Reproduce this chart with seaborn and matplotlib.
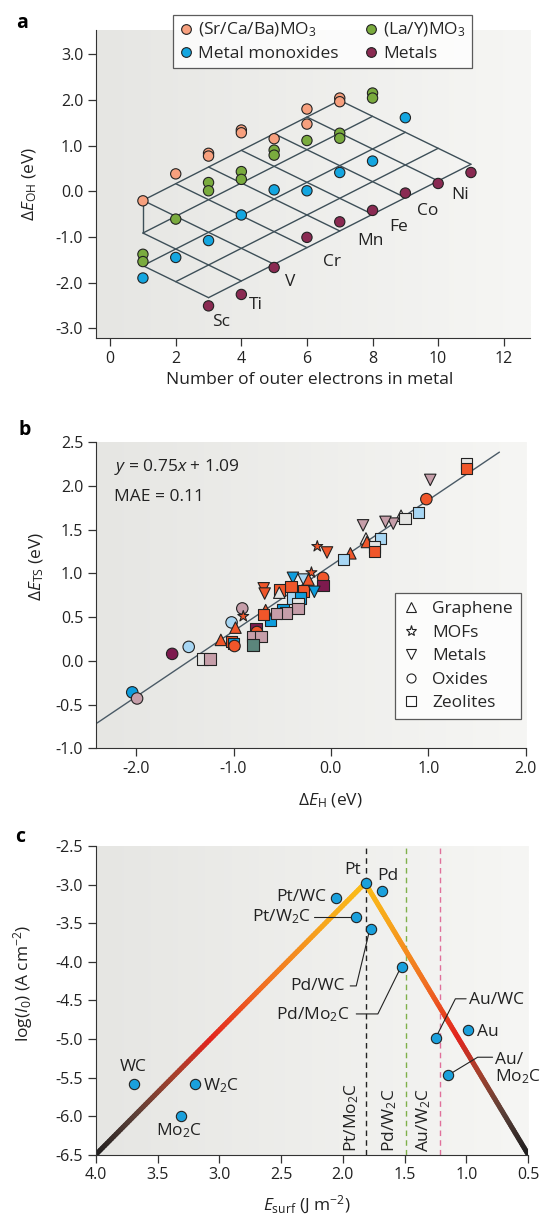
import numpy as np
import pandas as pd
import matplotlib
matplotlib.use('Agg')
import matplotlib.pyplot as plt
from matplotlib.collections import LineCollection
from matplotlib.colors import LinearSegmentedColormap
from matplotlib.lines import Line2D
import seaborn as sns


# ---- panel a data ----
sr_x = [1, 2, 3, 3, 4, 4, 5, 6, 6, 7, 7]
sr_y = [-0.21, 0.38, 0.83, 0.77, 1.34, 1.28, 1.15, 1.80, 1.47, 2.04, 1.96]
lay_x = [1, 1, 2, 3, 3, 4, 4, 5, 5, 6, 7, 7, 8, 8]
lay_y = [-1.38, -1.54, -0.61, 0.19, 0.01, 0.43, 0.26, 0.90, 0.79, 1.11, 1.27, 1.16, 2.15, 2.04]
mono_x = [1, 2, 3, 4, 5, 6, 7, 8, 9]
mono_y = [-1.90, -1.45, -1.08, -0.52, 0.03, 0.01, 0.41, 0.66, 1.61]
metal_x = [3, 4, 5, 6, 7, 8, 9, 10, 11]
metal_y = [-2.51, -2.26, -1.67, -1.01, -0.67, -0.42, -0.04, 0.17, 0.41]
metal_names = ['Sc', 'Ti', 'V', 'Cr', 'Mn', 'Fe', 'Co', 'Ni']
metal_lab_x = [3.37, 4.43, 5.50, 6.77, 7.94, 8.78, 9.68, 10.67]
metal_lab_y = [-2.86, -2.50, -1.99, -1.54, -1.09, -0.79, -0.43, -0.08]

# ---- panel b data ----
fit_slope, fit_icpt = 0.75, 1.09
fit_x = [-2.4, 1.73]
b_x = [1.39, 1.39, 1.02, 0.98, 0.90, 0.72, 0.76, 0.64, 0.56, 0.33,
       0.36, 0.37, 0.51, 0.45, 0.45, 0.20, 0.13, -0.14, -0.04, -0.20,
       -0.08, -0.39, -0.28, -0.23, -0.08, -0.41, -0.28, -0.17, -0.69, -0.68,
       -0.53, -0.53, -0.39, -0.31, -0.34, -0.34, -0.49, -0.46, -0.62, -0.56,
       -0.67, -0.69, -0.91, -0.90, -1.02, -0.98, -0.77, -0.76, -0.80, -0.72,
       -0.80, -1.13, -1.02, -1.00, -0.99, -1.63, -1.46, -1.32, -1.24, -2.04,
       -1.99]
b_y = [2.26, 2.20, 2.07, 1.85, 1.70, 1.66, 1.63, 1.57, 1.59, 1.55,
       1.40, 1.36, 1.40, 1.30, 1.25, 1.23, 1.16, 1.31, 1.24, 1.01,
       0.95, 0.95, 0.93, 0.93, 0.86, 0.85, 0.80, 0.79, 0.83, 0.77,
       0.81, 0.78, 0.72, 0.72, 0.65, 0.60, 0.59, 0.55, 0.47, 0.54,
       0.58, 0.53, 0.60, 0.51, 0.44, 0.38, 0.37, 0.33, 0.28, 0.28,
       0.18, 0.24, 0.22, 0.20, 0.17, 0.08, 0.16, 0.02, 0.02, -0.36,
       -0.43]
b_class = ['Zeolites', 'Zeolites', 'Metals', 'Oxides', 'Zeolites', 'Graphene', 'Zeolites', 'Metals', 'Metals', 'Metals',
           'Graphene', 'Graphene', 'Zeolites', 'Zeolites', 'Zeolites', 'Graphene', 'Zeolites', 'MOFs', 'Metals', 'MOFs',
           'Oxides', 'Metals', 'Metals', 'Graphene', 'Zeolites', 'Zeolites', 'Zeolites', 'Metals', 'Metals', 'Metals',
           'Zeolites', 'Graphene', 'Zeolites', 'Zeolites', 'Zeolites', 'Zeolites', 'Zeolites', 'Zeolites', 'Zeolites', 'Zeolites',
           'Graphene', 'Zeolites', 'Oxides', 'MOFs', 'Oxides', 'Graphene', 'Zeolites', 'Oxides', 'Zeolites', 'Zeolites',
           'Zeolites', 'Graphene', 'Zeolites', 'Zeolites', 'Oxides', 'Oxides', 'Oxides', 'Zeolites', 'Zeolites', 'Oxides',
           'Oxides']
b_tone = ['W', 'R', 'M', 'R', 'LB', 'W', 'W', 'M', 'M', 'M',
          'W', 'R', 'LB', 'W', 'R', 'R', 'LB', 'R', 'R', 'R',
          'R', 'B', 'LB', 'R', 'D', 'R', 'R', 'B', 'R', 'R',
          'R', 'W', 'LB', 'B', 'W', 'M', 'B', 'M', 'B', 'M',
          'R', 'R', 'M', 'R', 'LB', 'R', 'D', 'R', 'M', 'M',
          'T', 'R', 'R', 'B', 'R', 'D', 'LB', 'W', 'M', 'B',
          'M']

# ---- panel c data ----
volcano_x = [4.0, 1.82, 0.5]
volcano_y = [-6.5, -2.98, -6.5]
c_names = ['Pt', 'Pd', 'Pt/WC', 'Pt/W$_2$C', 'Pd/WC', 'Pd/Mo$_2$C', 'Au/WC', 'Au',
           'Au/\nMo$_2$C', 'WC', 'W$_2$C', 'Mo$_2$C']
c_x = [1.817, 1.682, 2.059, 1.892, 1.776, 1.523, 1.245, 0.985, 1.146, 3.69, 3.198, 3.313]
c_y = [-2.98, -3.08, -3.17, -3.416, -3.575, -4.07, -4.99, -4.89, -5.466, -5.58, -5.587, -6.00]
c_lab_x = [1.85, 1.72, 2.135, 2.255, 1.986, 1.946, 0.976, 0.914, 0.767, 3.70, 3.13, 3.33]
c_lab_y = [-2.81, -2.89, -3.16, -3.42, -4.32, -4.69, -4.495, -4.905, -5.39, -5.37, -5.60, -6.19]
c_lab_ha = ['right', 'left', 'right', 'right', 'right', 'right', 'left', 'left', 'left', 'center', 'left', 'center']
ref_names = ['Pt/Mo$_2$C', 'Pd/W$_2$C', 'Au/W$_2$C']
ref_x = [1.817, 1.488, 1.211]
ref_lab_x = [1.93, 1.62, 1.345]
ref_colors = ['#222222', '#7fb04a', '#e0709a']
leader_lines = [([2.23, 1.93], [-3.42, -3.42]),
                ([1.941, 1.892, 1.79], [-4.313, -4.313, -3.63]),
                ([1.892, 1.717, 1.542], [-4.676, -4.676, -4.106]),
                ([1.003, 1.09, 1.238], [-4.48, -4.48, -4.95]),
                ([0.789, 0.91, 1.124], [-5.237, -5.237, -5.445])]


sns.set_style('ticks')
FONT = 'Open Sans'
plt.rcParams['font.family'] = [FONT, 'DejaVu Sans']
plt.rcParams['mathtext.fontset'] = 'custom'
plt.rcParams['mathtext.rm'] = FONT
plt.rcParams['mathtext.it'] = FONT + ':italic'
plt.rcParams['mathtext.bf'] = FONT + ':bold'
plt.rcParams['axes.unicode_minus'] = True
plt.rcParams['axes.edgecolor'] = '#333333'
plt.rcParams['xtick.color'] = '#333333'
plt.rcParams['ytick.color'] = '#333333'
plt.rcParams['xtick.labelcolor'] = '#222222'
plt.rcParams['ytick.labelcolor'] = '#222222'

TICK = 11.5
LAB = 12.5
INK = '#222222'

W, H = 542, 1216
fig = plt.figure(figsize=(W / 100, H / 100), dpi=100)


def px_axes(l, t, r, b):
    return fig.add_axes([l / W, 1 - b / H, (r - l) / W, (b - t) / H])


bg_cmap = LinearSegmentedColormap.from_list('bg', ['#e6e6e3', '#f6f6f4'])


def style_axes(ax):
    ax.imshow(np.linspace(0, 1, 256).reshape(1, -1), cmap=bg_cmap, extent=[0, 1, 0, 1],
              transform=ax.transAxes, aspect='auto', zorder=-10)
    for s in ['top', 'right']:
        ax.spines[s].set_visible(False)
    ax.tick_params(labelsize=TICK, length=6, width=0.9, pad=3)


# ---------------- panel a ----------------
axa = px_axes(95.7, 30, 530, 338.3)
style_axes(axa)

# skewed lattice: rows r (classes) and columns k
def lat(k, r):
    return 1 + k + r, -0.2 + 0.365 * k - 0.35 * r

lc = '#3d4f58'
for r in range(5):
    k0 = max(-r, -2)
    (x0, y0), (x1, y1) = lat(k0, r), lat(6, r)
    axa.plot([x0, x1], [y0, y1], color=lc, lw=1.0, zorder=1)
for k in range(-2, 7):
    r0 = max(0, -k)
    (x0, y0), (x1, y1) = lat(k, r0), lat(k, 4)
    axa.plot([x0, x1], [y0, y1], color=lc, lw=1.0, zorder=1)
axa.plot([1, 1], [lat(0, 0)[1], lat(-1, 1)[1]], color=lc, lw=1.0, zorder=1)

a_colors = {'sr': '#f7a07e', 'lay': '#7aab3e', 'mono': '#14a6e0', 'metal': '#8a2a52'}
df_a = pd.concat([
    pd.DataFrame({'x': sr_x, 'y': sr_y, 'g': 'sr'}),
    pd.DataFrame({'x': lay_x, 'y': lay_y, 'g': 'lay'}),
    pd.DataFrame({'x': mono_x, 'y': mono_y, 'g': 'mono'}),
    pd.DataFrame({'x': metal_x, 'y': metal_y, 'g': 'metal'}),
])
sns.scatterplot(data=df_a, x='x', y='y', hue='g', palette=a_colors, s=55,
                edgecolor=INK, linewidth=0.8, legend=False, ax=axa, zorder=3)
for name, lx, ly in zip(metal_names, metal_lab_x, metal_lab_y):
    axa.text(lx, ly, name, ha='center', va='center', fontsize=LAB, color=INK)

axa.set_xlim(-0.44, 12.8)
axa.set_ylim(-3.22, 3.53)
axa.set_xticks(range(0, 13, 2))
axa.set_yticks(np.arange(-3, 3.1, 1))
axa.yaxis.set_major_formatter(matplotlib.ticker.FormatStrFormatter('%.1f'))
axa.set_xlabel('Number of outer electrons in metal', fontsize=LAB, color=INK)
axa.set_ylabel('Δ$E_{\\mathrm{OH}}$ (eV)', fontsize=LAB, color=INK)
axa.xaxis.set_label_coords(0.493, -0.11)
axa.yaxis.set_label_coords(-0.130, 0.5)

hand_a = [Line2D([], [], ls='', marker='o', ms=7, mfc=a_colors[g], mec=INK, mew=0.8)
          for g in ['sr', 'mono', 'lay', 'metal']]
lab_a = ['(Sr/Ca/Ba)MO$_3$', 'Metal monoxides', '(La/Y)MO$_3$', 'Metals']
leg = axa.legend(hand_a, lab_a, ncol=2, loc='upper left', bbox_to_anchor=(0.177, 1.049),
                 borderaxespad=0, fontsize=LAB, frameon=True, fancybox=False,
                 handletextpad=0.3, columnspacing=1.5, labelspacing=0.35,
                 borderpad=0.35, handlelength=0.8)
leg.get_frame().set_edgecolor('#333333')
leg.get_frame().set_linewidth(0.9)
leg.set_zorder(5)

# ---------------- panel b ----------------
axb = px_axes(95.7, 442.3, 525.7, 748.3)
style_axes(axb)
fx = np.array(fit_x)
sns.lineplot(x=fx, y=fit_slope * fx + fit_icpt, color='#4a5a66', lw=1.0, ax=axb, zorder=1)

tones = {'R': '#f0562a', 'LB': '#a7d6f3', 'B': '#0e9ddd', 'M': '#c69ea9',
         'D': '#7d1a4e', 'T': '#5b857c', 'W': '#e4e4e2'}
shapes = {'Graphene': '^', 'MOFs': '*', 'Metals': 'v', 'Oxides': 'o', 'Zeolites': 's'}
df_b = pd.DataFrame({'x': b_x, 'y': b_y, 'cls': b_class, 'tone': b_tone})
sns.scatterplot(data=df_b, x='x', y='y', hue='tone', style='cls', palette=tones,
                markers=shapes, s=68, edgecolor=INK, linewidth=0.8, legend=False,
                ax=axb, zorder=3)

axb.text(-2.23, 2.22, '$y$ = 0.75$x$ + 1.09', fontsize=LAB, color=INK, va='center')
axb.text(-2.23, 1.88, 'MAE = 0.11', fontsize=LAB, color=INK, va='center')

axb.set_xlim(-2.415, 2.0)
axb.set_ylim(-1.0, 2.5)
axb.set_xticks(np.arange(-2, 2.1, 1))
axb.set_yticks(np.arange(-1, 2.51, 0.5))
axb.xaxis.set_major_formatter(matplotlib.ticker.FormatStrFormatter('%.1f'))
axb.yaxis.set_major_formatter(matplotlib.ticker.FormatStrFormatter('%.1f'))
axb.set_xlabel('Δ$E_{\\mathrm{H}}$ (eV)', fontsize=LAB, color=INK)
axb.set_ylabel('Δ$E_{\\mathrm{TS}}$ (eV)', fontsize=LAB, color=INK)
axb.xaxis.set_label_coords(0.545, -0.143)
axb.yaxis.set_label_coords(-0.116, 0.593)

hand_b = [Line2D([], [], ls='', marker=shapes[c], ms=6.5 if c != 'MOFs' else 8,
                 mfc='white', mec=INK, mew=0.8) for c in shapes]
legb = axb.legend(hand_b, list(shapes), loc='upper left', bbox_to_anchor=(0.696, 0.5065),
                  borderaxespad=0, fontsize=LAB, frameon=True, fancybox=False,
                  handletextpad=0.7, labelspacing=0.42, borderpad=0.45, handlelength=1.0)
legb.get_frame().set_edgecolor('#333333')
legb.get_frame().set_linewidth(0.9)

# ---------------- panel c ----------------
axc = px_axes(95.7, 846, 528.3, 1154.7)
style_axes(axc)

for xr, col in zip(ref_x, ref_colors):
    axc.axvline(xr, color=col, lw=1.0, ls=(0, (4, 3)), zorder=1)
for name, lx in zip(ref_names, ref_lab_x):
    axc.text(lx, -6.46, name, rotation=90, ha='center', va='bottom', fontsize=LAB, color=INK)

vol_cmap = LinearSegmentedColormap.from_list(
    'vol', [(0.0, '#1e1e1e'), (0.15, '#5c4038'), (0.3, '#a8402c'), (0.43, '#e2241e'),
            (0.62, '#f06e22'), (0.85, '#f7a61c'), (1.0, '#fbbd18')])
segs, vals = [], []
for i in range(len(volcano_x) - 1):
    xs = np.linspace(volcano_x[i], volcano_x[i + 1], 120)
    ys = np.linspace(volcano_y[i], volcano_y[i + 1], 120)
    pts = np.column_stack([xs, ys])
    segs += [pts[j:j + 2] for j in range(len(pts) - 1)]
    vals += list((ys[:-1] + ys[1:]) / 2)
vals = (np.array(vals) - min(volcano_y)) / (max(volcano_y) - min(volcano_y))
lcoll = LineCollection(segs, colors=vol_cmap(vals), linewidths=3.6, capstyle='round', zorder=2)
axc.add_collection(lcoll)

for lx, ly in leader_lines:
    axc.plot(lx, ly, color=INK, lw=0.8, zorder=2)

sns.scatterplot(x=c_x, y=c_y, color='#1aa0dc', s=55, edgecolor=INK, linewidth=0.8,
                ax=axc, zorder=4)
for name, lx, ly, ha in zip(c_names, c_lab_x, c_lab_y, c_lab_ha):
    axc.text(lx, ly, name, ha=ha, va='center', fontsize=LAB, color=INK, linespacing=1.0)

axc.set_xlim(4.0, 0.5)
axc.set_ylim(-6.5, -2.5)
axc.set_xticks(np.arange(0.5, 4.01, 0.5))
axc.set_yticks(np.arange(-6.5, -2.49, 0.5))
axc.xaxis.set_major_formatter(matplotlib.ticker.FormatStrFormatter('%.1f'))
axc.yaxis.set_major_formatter(matplotlib.ticker.FormatStrFormatter('%.1f'))
axc.set_xlabel('$E_{\\mathrm{surf}}$ (J m$^{-2}$)', fontsize=LAB, color=INK)
axc.set_ylabel('log($I_0$) (A cm$^{-2}$)', fontsize=LAB, color=INK)
axc.xaxis.set_label_coords(0.488, -0.125)
axc.yaxis.set_label_coords(-0.141, 0.556)

for lab, (x, y) in zip('abc', [(21.7, 23.3), (25, 430), (20, 837)]):
    fig.text(x / W, 1 - y / H, lab, fontsize=14, fontweight='bold', ha='center', va='center', color='black')

fig.savefig('out.png', dpi=100, facecolor='white')
